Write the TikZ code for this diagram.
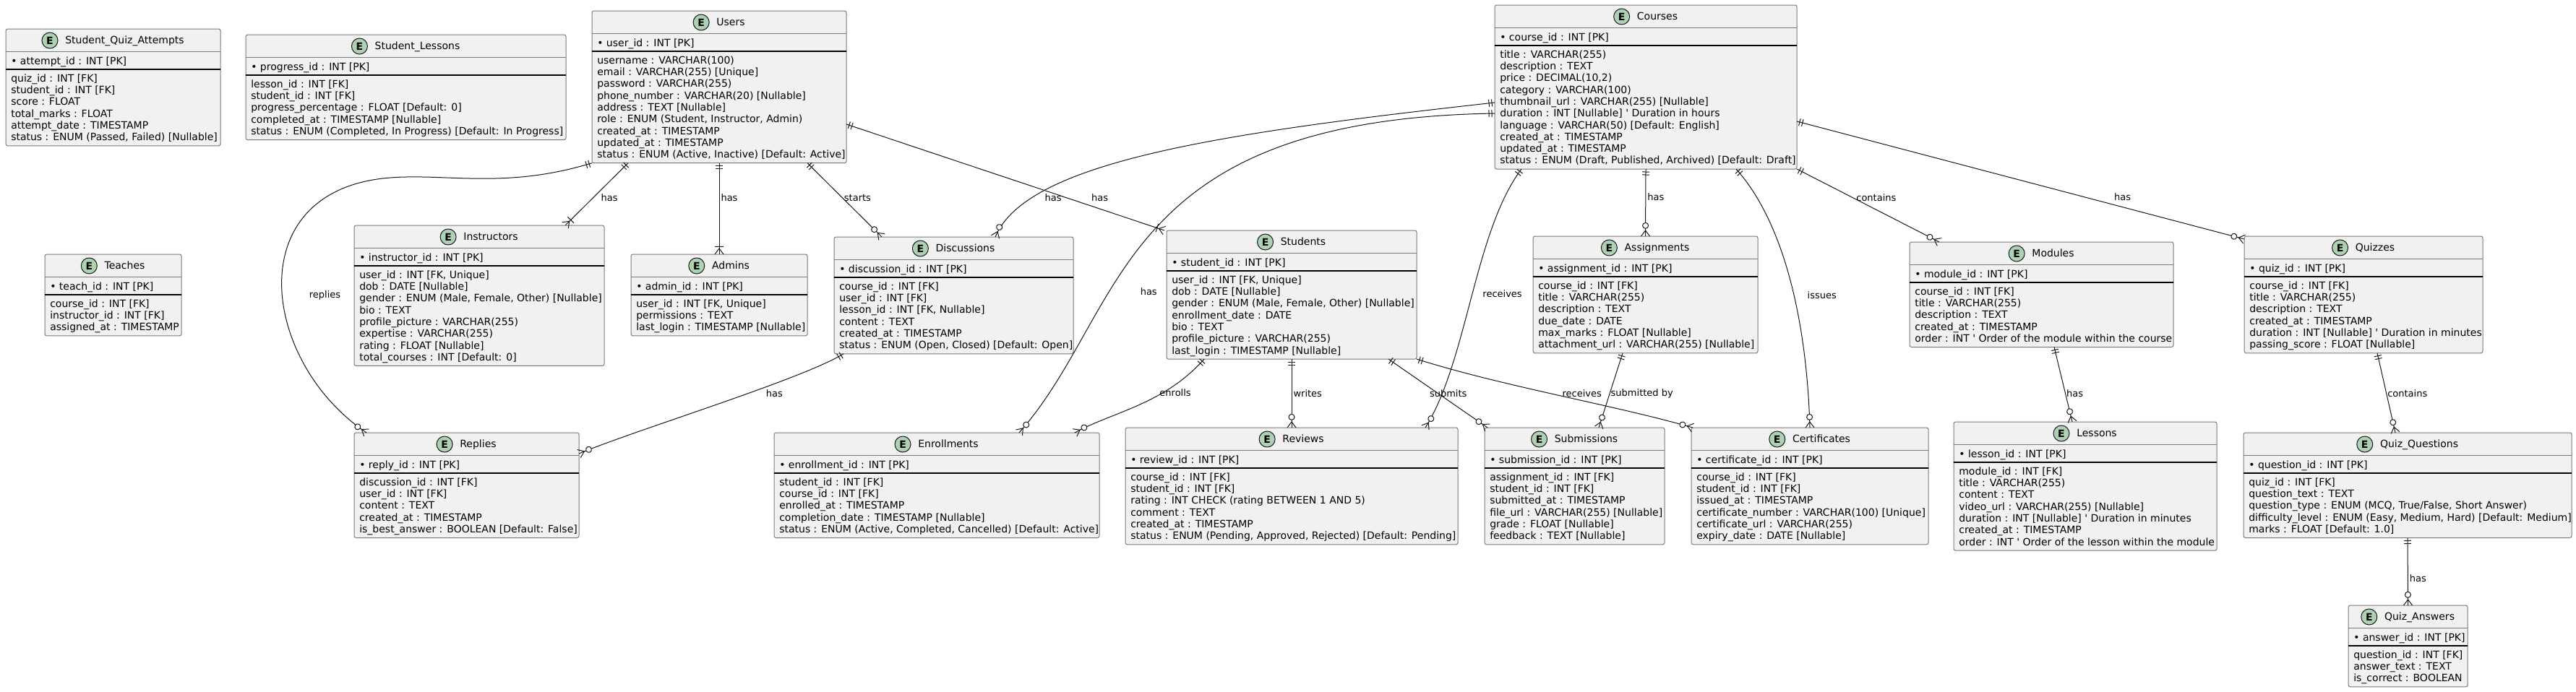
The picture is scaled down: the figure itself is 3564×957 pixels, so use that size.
\documentclass[tikz,border=0pt]{standalone}
\usepackage{fontspec}
\setmainfont{DejaVu Sans}
\usetikzlibrary{arrows.meta}
\definecolor{boxfill}{HTML}{F1F1F1}
\definecolor{boxline}{HTML}{7A7A7A}
\definecolor{linecol}{HTML}{181818}
\definecolor{badgecol}{HTML}{ADD1B2}

% crow's foot ends
\pgfdeclarearrow{
  name = erOne,
  setup code = {
    \pgfarrowssettipend{0pt}
    \pgfarrowssetlineend{0pt}
    \pgfarrowssetbackend{-6.5pt}
    \pgfarrowshullpoint{0pt}{3.75pt}
    \pgfarrowshullpoint{0pt}{-3.75pt}
    \pgfarrowshullpoint{-6.5pt}{3.75pt}
    \pgfarrowshullpoint{-6.5pt}{-3.75pt}
  },
  drawing code = {
    \pgfsetlinewidth{0.75pt}
    \pgfpathmoveto{\pgfqpoint{-3pt}{-3.75pt}}
    \pgfpathlineto{\pgfqpoint{-3pt}{3.75pt}}
    \pgfpathmoveto{\pgfqpoint{-6pt}{-3.75pt}}
    \pgfpathlineto{\pgfqpoint{-6pt}{3.75pt}}
    \pgfusepathqstroke
  }
}
\pgfdeclarearrow{
  name = erOneMany,
  setup code = {
    \pgfarrowssettipend{0pt}
    \pgfarrowssetlineend{0pt}
    \pgfarrowssetbackend{-8.5pt}
    \pgfarrowshullpoint{0pt}{4.5pt}
    \pgfarrowshullpoint{0pt}{-4.5pt}
    \pgfarrowshullpoint{-8.5pt}{4.5pt}
    \pgfarrowshullpoint{-8.5pt}{-4.5pt}
  },
  drawing code = {
    \pgfsetlinewidth{0.75pt}
    \pgfpathmoveto{\pgfqpoint{0pt}{4.5pt}}
    \pgfpathlineto{\pgfqpoint{-6pt}{0pt}}
    \pgfpathlineto{\pgfqpoint{0pt}{-4.5pt}}
    \pgfpathmoveto{\pgfqpoint{-8pt}{-4.5pt}}
    \pgfpathlineto{\pgfqpoint{-8pt}{4.5pt}}
    \pgfusepathqstroke
  }
}
\pgfdeclarearrow{
  name = erZeroMany,
  setup code = {
    \pgfarrowssettipend{0pt}
    \pgfarrowssetlineend{0pt}
    \pgfarrowssetbackend{-14.5pt}
    \pgfarrowshullpoint{0pt}{4.5pt}
    \pgfarrowshullpoint{0pt}{-4.5pt}
    \pgfarrowshullpoint{-14.5pt}{3.5pt}
    \pgfarrowshullpoint{-14.5pt}{-3.5pt}
  },
  drawing code = {
    \pgfsetlinewidth{0.75pt}
    \pgfpathmoveto{\pgfqpoint{0pt}{4.5pt}}
    \pgfpathlineto{\pgfqpoint{-6pt}{0pt}}
    \pgfpathlineto{\pgfqpoint{0pt}{-4.5pt}}
    \pgfusepathqstroke
    \pgfpathcircle{\pgfqpoint{-11pt}{0pt}}{3pt}
    \pgfsetfillcolor{white}
    \pgfusepathqfillstroke
  }
}

\tikzset{
  ebox/.style={draw=boxline, fill=boxfill, rounded corners=2pt, line width=0.75pt,
    inner sep=0pt, outer sep=0pt, anchor=north west},
  etitle/.style={font=\fontsize{10.5}{12.2}\selectfont, inner sep=0pt, anchor=base},
  ebadge/.style={circle, draw=linecol, fill=badgecol, line width=0.75pt,
    minimum size=16.5pt, inner sep=0pt, font=\fontsize{10.5}{12}\selectfont\bfseries},
  efield/.style={font=\fontsize{10.5}{12.225}\selectfont, inner sep=0pt, align=left},
  hsep/.style={draw=boxline, line width=0.75pt},
  ksep/.style={draw=black, line width=1pt},
  rel/.style={draw=linecol, line width=0.75pt},
  zm/.style={rel, arrows={erOne-erZeroMany}},
  om/.style={rel, arrows={erOne-erOneMany}},
  lbl/.style={font=\fontsize{9.75}{11}\selectfont, inner sep=0pt, anchor=west},
}

% id, left, top, width, rows, title, key, fields
\newcommand{\erbox}[8]{%
  \pgfmathsetmacro{\erh}{64+16.3*#5}
  \node[ebox, minimum width=0.75pt*#4, minimum height=0.75pt*\erh] (#1) at (#2,-#3) {};
  \node[etitle] (#1-title) at ([shift={(0,-20.7)}]#1.north) {\hspace*{24pt}#6};
  \node[ebadge] (#1-badge) at ([shift={(11,4.7)}]#1-title.base west) {E};
  \draw[hsep] ([shift={(0,-31.5)}]#1.north west) -- ([shift={(0,-31.5)}]#1.north east);
  \node[efield, anchor=base west] (#1-key) at ([shift={(7,-49.3)}]#1.north west) {\textbullet\ #7};
  \draw[ksep] ([shift={(0,-56)}]#1.north west) -- ([shift={(0,-56)}]#1.north east);
  \node[efield, anchor=north west] (#1-attrs) at ([shift={(7,-61.6)}]#1.north west) {\strut #8};
}

\begin{document}
\begin{tikzpicture}[x=0.75pt, y=0.75pt]
  \path[use as bounding box, fill=white] (0,0) rectangle (3564,-957);

  % top row
  \erbox{sqa}{8}{40}{297}{6}{Student\_Quiz\_Attempts}{attempt\_id : INT [PK]}
    {quiz\_id : INT [FK]\\student\_id : INT [FK]\\score : FLOAT\\total\_marks : FLOAT\\attempt\_date : TIMESTAMP\\status : ENUM (Passed, Failed) [Nullable]}
  \erbox{slessons}{340}{48}{443}{5}{Student\_Lessons}{progress\_id : INT [PK]}
    {lesson\_id : INT [FK]\\student\_id : INT [FK]\\progress\_percentage : FLOAT [Default: 0]\\completed\_at : TIMESTAMP [Nullable]\\status : ENUM (Completed, In Progress) [Default: In Progress]}
  \erbox{users}{819}{15}{352}{9}{Users}{user\_id : INT [PK]}
    {username : VARCHAR(100)\\email : VARCHAR(255) [Unique]\\password : VARCHAR(255)\\phone\_number : VARCHAR(20) [Nullable]\\address : TEXT [Nullable]\\role : ENUM (Student, Instructor, Admin)\\created\_at : TIMESTAMP\\updated\_at : TIMESTAMP\\status : ENUM (Active, Inactive) [Default: Active]}
  \erbox{courses}{2068}{7}{418}{10}{Courses}{course\_id : INT [PK]}
    {title : VARCHAR(255)\\description : TEXT\\price : DECIMAL(10,2)\\category : VARCHAR(100)\\thumbnail\_url : VARCHAR(255) [Nullable]\\duration : INT [Nullable] \textquotesingle\ Duration in hours\\language : VARCHAR(50) [Default: English]\\created\_at : TIMESTAMP\\updated\_at : TIMESTAMP\\status : ENUM (Draft, Published, Archived) [Default: Draft]}

  % middle row
  \erbox{teaches}{62}{352}{189}{3}{Teaches}{teach\_id : INT [PK]}
    {course\_id : INT [FK]\\instructor\_id : INT [FK]\\assigned\_at : TIMESTAMP}
  \erbox{instructors}{490}{312}{346}{8}{Instructors}{instructor\_id : INT [PK]}
    {user\_id : INT [FK, Unique]\\dob : DATE [Nullable]\\gender : ENUM (Male, Female, Other) [Nullable]\\bio : TEXT\\profile\_picture : VARCHAR(255)\\expertise : VARCHAR(255)\\rating : FLOAT [Nullable]\\total\_courses : INT [Default: 0]}
  \erbox{admins}{873}{352}{244}{3}{Admins}{admin\_id : INT [PK]}
    {user\_id : INT [FK, Unique]\\permissions : TEXT\\last\_login : TIMESTAMP [Nullable]}
  \erbox{discussions}{1154}{328}{331}{6}{Discussions}{discussion\_id : INT [PK]}
    {course\_id : INT [FK]\\user\_id : INT [FK]\\lesson\_id : INT [FK, Nullable]\\content : TEXT\\created\_at : TIMESTAMP\\status : ENUM (Open, Closed) [Default: Open]}
  \erbox{students}{1614}{319}{346}{7}{Students}{student\_id : INT [PK]}
    {user\_id : INT [FK, Unique]\\dob : DATE [Nullable]\\gender : ENUM (Male, Female, Other) [Nullable]\\enrollment\_date : DATE\\bio : TEXT\\profile\_picture : VARCHAR(255)\\last\_login : TIMESTAMP [Nullable]}
  \erbox{assignments}{2121}{327}{311}{6}{Assignments}{assignment\_id : INT [PK]}
    {course\_id : INT [FK]\\title : VARCHAR(255)\\description : TEXT\\due\_date : DATE\\max\_marks : FLOAT [Nullable]\\attachment\_url : VARCHAR(255) [Nullable]}
  \erbox{modules}{2642}{335}{365}{5}{Modules}{module\_id : INT [PK]}
    {course\_id : INT [FK]\\title : VARCHAR(255)\\description : TEXT\\created\_at : TIMESTAMP\\order : INT \textquotesingle\ Order of the module within the course}
  \erbox{quizzes}{3105}{327}{330}{6}{Quizzes}{quiz\_id : INT [PK]}
    {course\_id : INT [FK]\\title : VARCHAR(255)\\description : TEXT\\created\_at : TIMESTAMP\\duration : INT [Nullable] \textquotesingle\ Duration in minutes\\passing\_score : FLOAT [Nullable]}

  % bottom row
  \erbox{replies}{490}{599}{311}{5}{Replies}{reply\_id : INT [PK]}
    {discussion\_id : INT [FK]\\user\_id : INT [FK]\\content : TEXT\\created\_at : TIMESTAMP\\is\_best\_answer : BOOLEAN [Default: False]}
  \erbox{enrollments}{1071}{599}{450}{5}{Enrollments}{enrollment\_id : INT [PK]}
    {student\_id : INT [FK]\\course\_id : INT [FK]\\enrolled\_at : TIMESTAMP\\completion\_date : TIMESTAMP [Nullable]\\status : ENUM (Active, Completed, Cancelled) [Default: Active]}
  \erbox{reviews}{1557}{592}{460}{6}{Reviews}{review\_id : INT [PK]}
    {course\_id : INT [FK]\\student\_id : INT [FK]\\rating : INT CHECK (rating BETWEEN 1 AND 5)\\comment : TEXT\\created\_at : TIMESTAMP\\status : ENUM (Pending, Approved, Rejected) [Default: Pending]}
  \erbox{submissions}{2054}{592}{249}{6}{Submissions}{submission\_id : INT [PK]}
    {assignment\_id : INT [FK]\\student\_id : INT [FK]\\submitted\_at : TIMESTAMP\\file\_url : VARCHAR(255) [Nullable]\\grade : FLOAT [Nullable]\\feedback : TEXT [Nullable]}
  \erbox{certificates}{2340}{592}{328}{6}{Certificates}{certificate\_id : INT [PK]}
    {course\_id : INT [FK]\\student\_id : INT [FK]\\issued\_at : TIMESTAMP\\certificate\_number : VARCHAR(100) [Unique]\\certificate\_url : VARCHAR(255)\\expiry\_date : DATE [Nullable]}
  \erbox{lessons}{2703}{584}{364}{7}{Lessons}{lesson\_id : INT [PK]}
    {module\_id : INT [FK]\\title : VARCHAR(255)\\content : TEXT\\video\_url : VARCHAR(255) [Nullable]\\duration : INT [Nullable] \textquotesingle\ Duration in minutes\\created\_at : TIMESTAMP\\order : INT \textquotesingle\ Order of the lesson within the module}
  \erbox{quizq}{3104}{599}{454}{5}{Quiz\_Questions}{question\_id : INT [PK]}
    {quiz\_id : INT [FK]\\question\_text : TEXT\\question\_type : ENUM (MCQ, True/False, Short Answer)\\difficulty\_level : ENUM (Easy, Medium, Hard) [Default: Medium]\\marks : FLOAT [Default: 1.0]}
  \erbox{quiza}{3249}{838}{165}{3}{Quiz\_Answers}{answer\_id : INT [PK]}
    {question\_id : INT [FK]\\answer\_text : TEXT\\is\_correct : BOOLEAN}

  % relations from Users
  \draw[zm] (users.south west) .. controls (700,-262) and (620,-240) .. (540,-246)
    .. controls (330,-262) and (360,-500) .. ([shift={(17,0)}]replies.north west)
    node[lbl, pos=0.54, shift={(37,0)}] {replies};
  \draw[om] ([shift={(50,0)}]users.south west) -- node[lbl, pos=0.55, shift={(10,0)}] {has}
    ([shift={(-54,0)}]instructors.north east);
  \draw[om] (users.south) -- node[lbl, pos=0.38, shift={(2,0)}] {has} (admins.north);
  \draw[zm] ([shift={(-54,0)}]users.south east) -- node[lbl, pos=0.47, shift={(2,0)}] {starts}
    ([shift={(66,0)}]discussions.north west);
  \draw[om] ([shift={(0,-157)}]users.north east) -- node[lbl, pos=0.69, shift={(35,0)}] {has}
    ([shift={(-3,0)}]students.north west);

  % relations from Courses
  \draw[zm] ([shift={(0,-135)}]courses.north west) .. controls (1680,-185) and (1420,-225) ..
    ([shift={(-108,0)}]discussions.north east) node[lbl, pos=0.8, shift={(17,0)}] {has};
  \draw[zm] ([shift={(0,-150)}]courses.north west) .. controls (1540,-165) and (1560,-430) ..
    ([shift={(-111,0)}]enrollments.north east) node[lbl, pos=0.66, shift={(45,4)}] {has};
  \draw[zm] ([shift={(37,0)}]courses.south west) .. controls (2040,-320) and (2030,-500) ..
    ([shift={(-45,0)}]reviews.north east) node[lbl, pos=0.49, shift={(14,0)}] {receives};
  \draw[zm] (courses.south) -- node[lbl, pos=0.42, shift={(2,0)}] {has} (assignments.north);
  \draw[zm] ([shift={(-84,0)}]courses.south east) .. controls (2470,-310) and (2500,-450) ..
    (certificates.north) node[lbl, pos=0.555, shift={(18,0)}] {issues};
  \draw[zm] (courses.south east) -- node[lbl, pos=0.39, shift={(5,0)}] {contains}
    ([shift={(41,0)}]modules.north west);
  \draw[zm] ([shift={(0,-161)}]courses.north east) -- node[lbl, pos=0.644, shift={(40,0)}] {has}
    ([shift={(0,-4)}]quizzes.north west);

  % the rest
  \draw[zm] ([shift={(13,0)}]discussions.south west) .. controls (1110,-525) and (880,-595) ..
    ([shift={(0,-29)}]replies.north east) node[lbl, pos=0.4, shift={(23,0)}] {has};
  \draw[zm] ([shift={(52,0)}]students.south west) .. controls (1610,-560) and (1540,-570) ..
    ([shift={(-34,0)}]enrollments.north east) node[lbl, pos=0.32, shift={(-5,0)}] {enrolls};
  \draw[zm] (students.south) -- node[lbl, pos=0.5, shift={(2,0)}] {writes} (reviews.north);
  \draw[zm] ([shift={(-39,0)}]students.south east) -- node[lbl, pos=0.5, shift={(-12,0)}] {submits}
    ([shift={(4,0)}]submissions.north west);
  \draw[zm] (students.south east) .. controls (2080,-535) and (2230,-560) ..
    ([shift={(2,0)}]certificates.north west) node[lbl, pos=0.6, anchor=center, shift={(-5,11)}] {receives};
  \draw[zm] ([shift={(124,0)}]assignments.south west) -- node[lbl, pos=0.54, shift={(1,0)}] {submitted by}
    ([shift={(-91,0)}]submissions.north east);
  \draw[zm] ([shift={(200,0)}]modules.south west) -- node[lbl, pos=0.62, shift={(1,0)}] {has}
    ([shift={(164,0)}]lessons.north west);
  \draw[zm] ([shift={(184,0)}]quizzes.south west) -- node[lbl, pos=0.51, shift={(1,0)}] {contains}
    ([shift={(210,0)}]quizq.north west);
  \draw[zm] (quizq.south) -- node[lbl, pos=0.6, shift={(2,0)}] {has} (quiza.north);
\end{tikzpicture}
\end{document}
